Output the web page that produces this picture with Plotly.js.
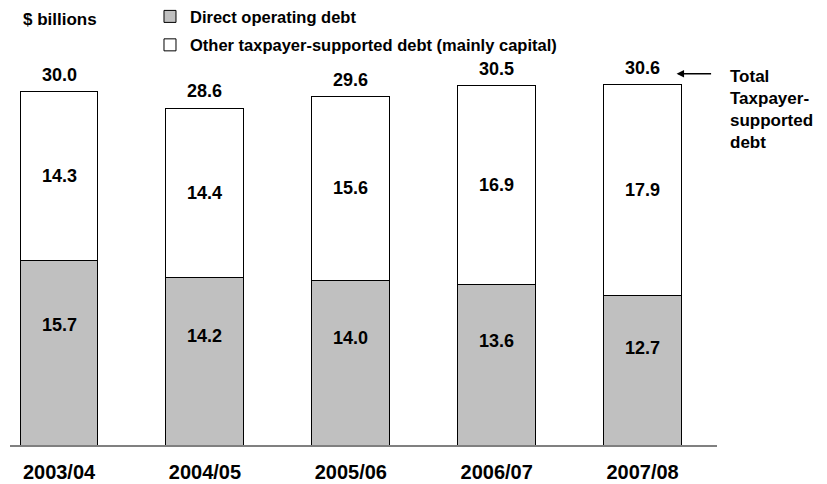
<!DOCTYPE html>
<html>
<head>
<meta charset="utf-8">
<script src="https://cdn.plot.ly/plotly-3.0.1.min.js"></script>
<style>html,body{margin:0;padding:0;background:#fff;}#chart{width:827px;height:484px;}</style>
</head>
<body>
<div id="chart"></div>
<script>
const years = ["2003/04", "2004/05", "2005/06", "2006/07", "2007/08"];
const directOperating = [15.7, 14.2, 14.0, 13.6, 12.7];
const otherDebt = [14.3, 14.4, 15.6, 16.9, 17.9];
const totals = [30.0, 28.6, 29.6, 30.5, 30.6];

const FONT = "Liberation Sans, Arial, sans-serif";
const idx = years.map((_, i) => i);
const b = s => "<b>" + s + "</b>";

const traces = [
  {
    type: "bar", name: b("Direct operating debt"), x: idx, y: directOperating,
    legendgroup: "a",
    width: 0.534, marker: {color: "#c0c0c0", line: {color: "#000", width: 1}},
    hoverinfo: "skip"
  },
  {
    type: "bar", name: b("Other taxpayer-supported debt (mainly capital)"), x: idx, y: otherDebt,
    legendgroup: "b",
    width: 0.534, marker: {color: "#ffffff", line: {color: "#000", width: 1}},
    hoverinfo: "skip"
  }
];

const annotations = [];
idx.forEach(i => {
  annotations.push({x: i, y: directOperating[i] * 0.65, text: b(directOperating[i].toFixed(1)),
    showarrow: false, font: {family: FONT, size: 18, color: "#000"}});
  annotations.push({x: i, y: directOperating[i] + otherDebt[i] / 2, text: b(otherDebt[i].toFixed(1)),
    showarrow: false, font: {family: FONT, size: 18, color: "#000"}});
  annotations.push({x: i, y: totals[i], yshift: 17, text: b(totals[i].toFixed(1)),
    showarrow: false, font: {family: FONT, size: 18, color: "#000"}});
});
annotations.push({xref: "paper", yref: "paper", x: 0.0156, y: 1.106, xanchor: "left", yanchor: "middle",
  text: b("$ billions"), showarrow: false, font: {family: FONT, size: 17, color: "#000"}});
annotations.push({x: 4, y: totals[4], xshift: 34, yshift: 11, ax: 36, ay: 0, text: "",
  showarrow: true, arrowhead: 2, arrowsize: 1, arrowwidth: 1.5, arrowcolor: "#000"});
annotations.push({xref: "paper", yref: "paper", x: 1.016, y: 0.987, xanchor: "left", yanchor: "top", align: "left",
  text: b("Total<br>Taxpayer-<br>supported<br>debt"), showarrow: false,
  font: {family: FONT, size: 17, color: "#000"}});

const layout = {
  width: 827, height: 484,
  margin: {l: 10, r: 110, t: 60, b: 39, autoexpand: false},
  paper_bgcolor: "#fff", plot_bgcolor: "#fff",
  barmode: "stack",
  font: {family: FONT, color: "#000"},
  showlegend: true,
  legend: {x: 0.198, y: 1.158, xanchor: "left", yanchor: "top", traceorder: "grouped", tracegroupgap: 4,
    orientation: "v", bgcolor: "rgba(0,0,0,0)", font: {family: FONT, size: 16.5}},
  xaxis: {range: [-0.336, 4.51], tickmode: "array", tickvals: idx, ticktext: years.map(b),
    showline: true, linecolor: "#808080", linewidth: 2, showgrid: false, zeroline: false,
    ticks: "", ticklabelstandoff: 8, tickfont: {family: FONT, size: 20}, fixedrange: true},
  yaxis: {range: [0, 32.7], visible: false, showgrid: false, zeroline: false, fixedrange: true},
  annotations: annotations
};

Plotly.newPlot("chart", traces, layout, {staticPlot: true, displayModeBar: false});
</script>
</body>
</html>
